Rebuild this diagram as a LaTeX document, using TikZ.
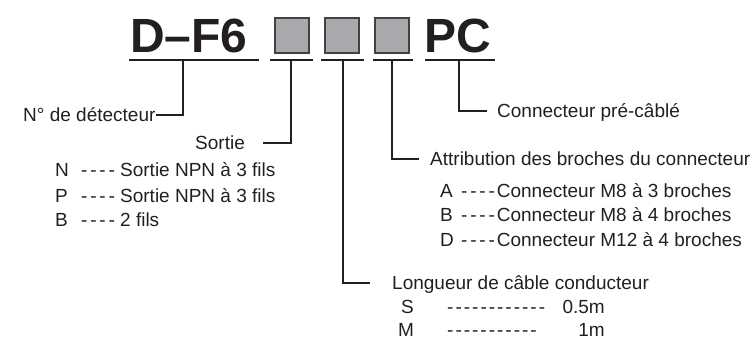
\documentclass[tikz,border=0pt]{standalone}
\usepackage{fontspec}
\usepackage{xcolor}
\setmainfont{Liberation Sans}

\definecolor{ink}{HTML}{231F20}
\definecolor{boxgray}{HTML}{A7A9AC}

\newcommand{\fourdash}{-\kern2.8pt-\kern2.8pt-\kern2.8pt-}
\newcommand{\dashrun}[1]{\foreach \i in {1,...,#1}{-\kern2pt}}

\begin{document}
\begin{tikzpicture}[x=1pt, y=-1pt,
  codepart/.style={font=\fontsize{48}{50}\selectfont\bfseries, text=ink, inner sep=0pt, anchor=base west},
  slot/.style={draw=ink!85, fill=boxgray, line width=1.6pt, minimum width=34.5pt, minimum height=35.5pt, inner sep=0pt},
  note/.style={font=\fontsize{19}{22}\selectfont, text=ink, inner sep=0pt, text height=14pt, text depth=0pt, anchor=west},
  leader/.style={draw=ink, line width=1.2pt}]

\useasboundingbox (0,0) rectangle (755,344);

% model code
\node[codepart] (DF) at (130,53) {D–F6};
\node[slot] (S1) at (292,35.5) {};
\node[slot] (S2) at (342,35.5) {};
\node[slot] (S3) at (392,35.5) {};
\node[codepart] (PC) at (424,53) {PC};

\foreach \a/\b in {129/259, 270/313, 321/364, 373/413, 425/495}
  \draw[leader] (\a,60) -- (\b,60);

\coordinate (d0) at (183,60);
\coordinate (d1) at (291,60);
\coordinate (d2) at (343,60);
\coordinate (d3) at (392,60);
\coordinate (d4) at (459,60);

% labels
\node[note] (det) at (23,115) {N° de détecteur};
\node[note] (out) at (195,143) {Sortie};
\node[note] (outN) at (55,170) {\makebox[26pt][l]{N}\fourdash\ Sortie NPN à 3 fils};
\node[note] (outP) at (55,196) {\makebox[26pt][l]{P}\fourdash\ Sortie NPN à 3 fils};
\node[note] (outB) at (55,220) {\makebox[26pt][l]{B}\fourdash\ 2 fils};

\node[note] (pcab) at (497,111) {Connecteur pré-câblé};

\node[note] (pins) at (430,159) {Attribution des broches du connecteur};
\node[note] (pinA) at (440,191) {\makebox[21pt][l]{A}\fourdash\kern2pt Connecteur M8 à 3 broches};
\node[note] (pinB) at (440,215) {\makebox[21pt][l]{B}\fourdash\kern2pt Connecteur M8 à 4 broches};
\node[note] (pinD) at (440,240) {\makebox[21pt][l]{D}\fourdash\kern2pt Connecteur M12 à 4 broches};

\node[note] (cable) at (392,283) {Longueur de câble conducteur};
\node[note] (lenS) at (401,307) {\makebox[46pt][l]{S}\dashrun{12}};
\node[note, anchor=east] (valS) at (605,307) {0.5m};
\node[note] (lenM) at (398,330) {\makebox[49pt][l]{M}\dashrun{11}};
\node[note, anchor=east] (valM) at (605,330) {1m};

% leaders
\draw[leader] (d0) |- (det.east);
\draw[leader] (d1) |- ([xshift=18pt]out.east);
\draw[leader] (d4) |- ([xshift=-10pt]pcab.west);
\draw[leader] (d3) |- ([xshift=-11pt]pins.west);
\draw[leader] (d2) |- ([xshift=-22pt]cable.west);

\end{tikzpicture}
\end{document}
